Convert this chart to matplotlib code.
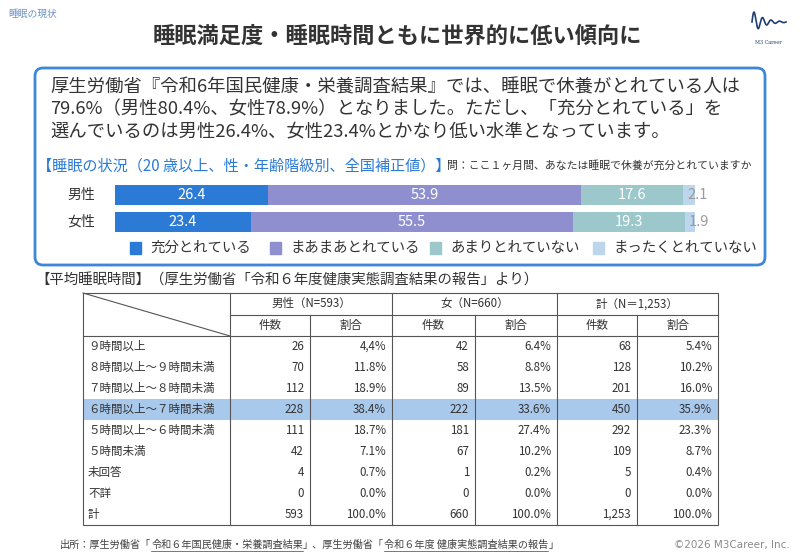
import numpy as np
import matplotlib
matplotlib.use('Agg')
import matplotlib.pyplot as plt
from matplotlib.patches import FancyBboxPatch, Rectangle

plt.rcParams['font.family'] = ['Noto Sans CJK JP', 'DejaVu Sans']

# data
groups = ['男性', '女性']
categories = ['充分とれている', 'まあまあとれている', 'あまりとれていない', 'まったくとれていない']
male = [26.4, 53.9, 17.6, 2.1]
female = [23.4, 55.5, 19.3, 1.9]
bar_colors = ['#2b7bd6', '#8f8fd0', '#9cc8cb', '#bcd6ee']

rows = ['９時間以上', '８時間以上～９時間未満', '７時間以上～８時間未満', '６時間以上～７時間未満',
        '５時間以上～６時間未満', '５時間未満', '未回答', '不詳', '計']
male_n = [26, 70, 112, 228, 111, 42, 4, 0, 593]
male_pct = [4.4, 11.8, 18.9, 38.4, 18.7, 7.1, 0.7, 0.0, 100.0]
female_n = [42, 58, 89, 222, 181, 67, 1, 0, 660]
female_pct = [6.4, 8.8, 13.5, 33.6, 27.4, 10.2, 0.2, 0.0, 100.0]
total_n = [68, 128, 201, 450, 292, 109, 5, 0, 1253]
total_pct = [5.4, 10.2, 16.0, 35.9, 23.3, 8.7, 0.4, 0.0, 100.0]
group_heads = ['男性（N=593）', '女（N=660）', '計（N＝1,253）']
highlight_row = 3

fig = plt.figure(figsize=(8, 5.54), dpi=100)
bg = fig.add_axes([0, 0, 1, 1])
bg.set_xlim(0, 800)
bg.set_ylim(554, 0)
bg.axis('off')

dark = '#333333'

# header
bg.text(8, 14, '睡眠の現状', fontsize=7, color='#6f93c4', va='center')
bg.text(397, 36, '睡眠満足度・睡眠時間ともに世界的に低い傾向に', fontsize=16,
        color=dark, ha='center', va='center', fontweight='bold')

# logo
t = np.linspace(0, 1, 200)
lx = 752 + 34 * t
ly = 22 - 12 * np.sin(2 * np.pi * 4 * t) * np.exp(-3.2 * t)
bg.plot(lx, ly, color='#1f3e72', lw=1.2)
bg.text(768, 42, 'M3 Career', fontsize=3.5, color='#1f3e72', ha='center',
        va='center', family='DejaVu Serif')

# box
box = FancyBboxPatch((35, 68), 730, 197, boxstyle='round,pad=0,rounding_size=8',
                     ec='#3d86d8', fc='white', lw=2)
bg.add_patch(box)
body = ['厚生労働省『令和6年国民健康・栄養調査結果』では、睡眠で休養がとれている人は',
        '79.6%（男性80.4%、女性78.9%）となりました。ただし、「充分とれている」を',
        '選んでいるのは男性26.4%、女性23.4%とかなり低い水準となっています。']
for i, line in enumerate(body):
    bg.text(50, 88 + i * 21.5, line, fontsize=13.2, color=dark, va='center')

bg.text(37, 166, '【睡眠の状況（20 歳以上、性・年齢階級別、全国補正値）】', fontsize=10.9,
        color='#2b7bd6', va='center')
bg.text(447, 166, '問：ここ１ヶ月間、あなたは睡眠で休養が充分とれていますか', fontsize=7.8,
        color=dark, va='center')

# stacked bars
ax = fig.add_axes([115 / 800, 1 - 235.5 / 554, 580 / 800, 54 / 554])
data = np.array([male, female])
left = np.zeros(len(groups))
y = np.arange(len(groups))
for j, cat in enumerate(categories):
    ax.barh(y, data[:, j], left=left, height=0.74, color=bar_colors[j], label=cat)
    for k in range(len(groups)):
        v = data[k, j]
        if j == len(categories) - 1:
            ax.text(left[k] + v * 0.35, y[k], f'{v:.1f}', ha='left', va='center',
                    fontsize=10.5, color='#9a9a9a')
        else:
            ax.text(left[k] + v / 2, y[k], f'{v:.1f}', ha='center', va='center',
                    fontsize=10.5, color='white')
    left += data[:, j]
ax.set_xlim(0, 100)
ax.set_ylim(1.5, -0.5)
ax.axis('off')
for k, g in enumerate(groups):
    ax.text(-3.5, y[k], g, ha='right', va='center', fontsize=10, color=dark)

# legend
leg_x = [130, 270, 430, 593]
for j, cat in enumerate(categories):
    bg.add_patch(Rectangle((leg_x[j], 242), 11, 12, color=bar_colors[j]))
    bg.text(leg_x[j] + 20, 248, cat, fontsize=10.4, color=dark, va='center')

# table
bg.text(35, 281, '【平均睡眠時間】（厚生労働省「令和６年度健康実態調査結果の報告」より）',
        fontsize=10.4, color=dark, va='center')

col_edges = [83, 230, 310, 392, 475, 557, 637, 718]
top, h1, h2, rh = 293, 21.5, 21.5, 21
data_top = top + h1 + h2
bottom = data_top + rh * len(rows)
lc = '#555555'
lw = 0.8

# highlighted row
bg.add_patch(Rectangle((col_edges[0], data_top + highlight_row * rh),
                       col_edges[-1] - col_edges[0], rh, color='#a9c9ec', lw=0))

bg.add_patch(Rectangle((col_edges[0], top), col_edges[-1] - col_edges[0], bottom - top,
                       fill=False, ec=lc, lw=lw))
bg.plot([col_edges[1], col_edges[-1]], [top + h1] * 2, color=lc, lw=lw)
bg.plot([col_edges[0], col_edges[-1]], [data_top] * 2, color=lc, lw=lw)
bg.plot([col_edges[0], col_edges[1]], [top, data_top], color=lc, lw=lw)
for i, x in enumerate(col_edges[1:-1]):
    y0 = top if i % 2 == 0 else top + h1
    bg.plot([x, x], [y0, bottom], color=lc, lw=lw)

fs = 8.3
for g, head in enumerate(group_heads):
    cx = (col_edges[1 + 2 * g] + col_edges[3 + 2 * g]) / 2
    bg.text(cx, top + h1 / 2, head, ha='center', va='center', fontsize=fs, color=dark)
    for s, sub in enumerate(['件数', '割合']):
        c0 = col_edges[1 + 2 * g + s]
        c1 = col_edges[2 + 2 * g + s]
        bg.text((c0 + c1) / 2, top + h1 + h2 / 2, sub, ha='center', va='center',
                fontsize=fs, color=dark)

male_pct_txt = [f'{v:.1f}%' for v in male_pct]
male_pct_txt[0] = '4,4%'  # as printed in the source
cols = [[f'{v:,}' for v in male_n], male_pct_txt,
        [f'{v:,}' for v in female_n], [f'{v:.1f}%' for v in female_pct],
        [f'{v:,}' for v in total_n], [f'{v:.1f}%' for v in total_pct]]
for r, name in enumerate(rows):
    yc = data_top + rh * r + rh / 2
    bg.text(col_edges[0] + 5, yc, name, va='center', fontsize=fs, color=dark)
    for c, col in enumerate(cols):
        bg.text(col_edges[c + 2] - 6, yc, col[r], ha='right', va='center',
                fontsize=fs, color=dark)

# footer with underlined titles
renderer = fig.canvas.get_renderer()
inv = bg.transData.inverted()
pieces = [('出所：厚生労働省「', False), ('令和６年国民健康・栄養調査結果', True),
          ('」、厚生労働省「', False), ('令和６年度 健康実態調査結果の報告', True), ('」', False)]
fx = 60
for txt, ul in pieces:
    tt = bg.text(fx, 545, txt, fontsize=7.3, color='#444444', va='center')
    bb = tt.get_window_extent(renderer)
    (x0, _), (x1, _) = inv.transform([[bb.x0, bb.y0], [bb.x1, bb.y1]])
    if ul:
        bg.plot([x0, x1], [551, 551], color='#444444', lw=0.5)
    fx = x1

bg.text(790, 545, '©2026 M3Career, Inc.', fontsize=7.5, color='#8a8a8a', ha='right',
        va='center', family='DejaVu Sans')

fig.savefig('out.png', dpi=100)
